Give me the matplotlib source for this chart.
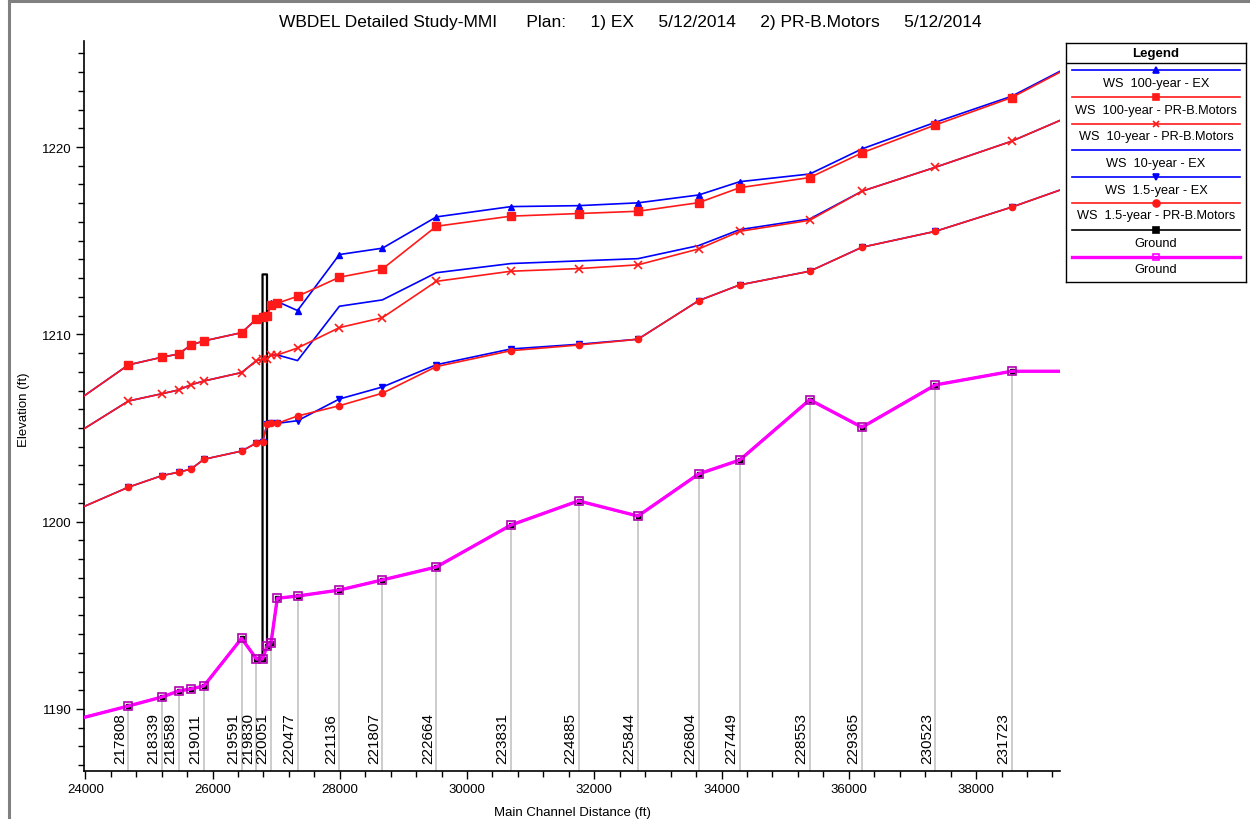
import matplotlib
matplotlib.use("Agg")
import matplotlib.pyplot as plt
from matplotlib.lines import Line2D
from matplotlib.ticker import MultipleLocator

plt.rcParams['font.family'] = ['Liberation Sans', 'DejaVu Sans']

# Main channel distance (ft) of each cross section, downstream to upstream
distance = [23500, 24678, 25206, 25466, 25661, 25865, 26457, 26691, 26786, 26856,
            26918, 27018, 27336, 27994, 28670, 29518, 30691, 31752, 32686, 33641,
            34286, 35386, 36207, 37361, 38559, 39800]

# River station labels ('' where the section is not labelled)
station = ['', '217808', '218339', '218589', '', '219011', '219591', '219830', '', '',
           '220051', '', '220477', '221136', '221807', '222664', '223831', '224885',
           '225844', '226804', '227449', '228553', '229365', '230523', '231723', '']

ws100_ex = [1205.57, 1208.37, 1208.78, 1208.95, 1209.43, 1209.65, 1210.09, 1210.82, 1210.91, 1210.97,
            1211.68, 1211.75, 1211.27, 1214.26, 1214.60, 1216.27, 1216.82, 1216.87, 1217.02, 1217.44,
            1218.15, 1218.56, 1219.90, 1221.32, 1222.71, 1224.89]
ws100_pr = [1205.57, 1208.37, 1208.78, 1208.95, 1209.43, 1209.65, 1210.09, 1210.82, 1210.91, 1210.97,
            1211.57, 1211.66, 1212.03, 1213.05, 1213.49, 1215.77, 1216.31, 1216.45, 1216.57, 1217.03,
            1217.83, 1218.37, 1219.69, 1221.18, 1222.64, 1224.85]
ws10_pr = [1203.94, 1206.44, 1206.83, 1207.03, 1207.31, 1207.51, 1207.96, 1208.60, 1208.67, 1208.67,
           1208.90, 1208.90, 1209.27, 1210.36, 1210.89, 1212.83, 1213.37, 1213.51, 1213.71, 1214.56,
           1215.50, 1216.09, 1217.64, 1218.92, 1220.31, 1222.12]
ws10_ex = [1203.94, 1206.44, 1206.83, 1207.03, 1207.31, 1207.51, 1207.96, 1208.60, 1208.67, 1208.67,
           1208.90, 1208.90, 1208.60, 1211.50, 1211.84, 1213.29, 1213.78, 1213.92, 1214.04, 1214.74,
           1215.59, 1216.16, 1217.64, 1218.92, 1220.31, 1222.12]
ws15_ex = [1200.10, 1201.84, 1202.46, 1202.64, 1202.81, 1203.33, 1203.77, 1204.20, 1204.24, 1205.20,
           1205.25, 1205.25, 1205.39, 1206.55, 1207.19, 1208.38, 1209.22, 1209.47, 1209.74, 1211.80,
           1212.64, 1213.37, 1214.65, 1215.50, 1216.79, 1218.28]
ws15_pr = [1200.10, 1201.84, 1202.46, 1202.64, 1202.81, 1203.33, 1203.77, 1204.20, 1204.24, 1205.20,
           1205.25, 1205.25, 1205.64, 1206.19, 1206.86, 1208.28, 1209.13, 1209.43, 1209.74, 1211.80,
           1212.64, 1213.37, 1214.65, 1215.50, 1216.79, 1218.28]
ground = [1189.13, 1190.16, 1190.64, 1190.96, 1191.07, 1191.23, 1193.77, 1192.67, 1192.67, 1193.35,
          1193.50, 1195.91, 1196.03, 1196.35, 1196.89, 1197.58, 1199.82, 1201.11, 1200.30, 1202.55,
          1203.29, 1206.51, 1205.04, 1207.30, 1208.03, 1208.03]

# Bridge faces (indices into distance) and top of deck elevation
bridge_faces = (8, 9)
bridge_top = 1213.2

BLUE = '#0000ff'
RED = '#ff1a1a'
MAG = '#ff00ff'

W, H = 1250, 820
fig = plt.figure(figsize=(W / 100, H / 100), dpi=100)
ax = fig.add_axes([84 / W, 1 - 772 / H, (1060 - 84) / W, (772 - 42) / H])

# station gridlines and labels
for x, g, s in zip(distance, ground, station):
    if s:
        ax.plot([x, x], [1180, g], color='#c8c8c8', lw=1.3, zorder=1)
        ax.annotate(s, (x, 1186.69), xytext=(-1, 6), textcoords='offset points',
                    rotation=90, ha='right', va='bottom', fontsize=11, zorder=2)

# existing-plan ground, with the bridge deck outline
i0, i1 = bridge_faces
bx = distance[:i0 + 1] + [distance[i0], distance[i1]] + distance[i1:]
by = ground[:i0 + 1] + [bridge_top, bridge_top] + ground[i1:]
ax.plot(bx, by, color='black', lw=1.6, zorder=3, solid_joinstyle='round')
ax.plot(distance, ground, ls='none', marker='s', ms=3.5, color='black', zorder=3)

# proposed-plan ground
ax.plot(distance, ground, color=MAG, lw=2.4, marker='s', ms=5.5, mfc='none',
        mec='#b000b0', mew=1.2, zorder=4)

ax.plot(distance, ws100_ex, color=BLUE, lw=1.2, marker='^', ms=5, zorder=5)
ax.plot(distance, ws10_ex, color=BLUE, lw=1.2, zorder=5)
ax.plot(distance, ws15_ex, color=BLUE, lw=1.2, marker='v', ms=5, zorder=5)
ax.plot(distance, ws100_pr, color=RED, lw=1.2, marker='s', ms=5.5, zorder=6)
ax.plot(distance, ws10_pr, color=RED, lw=1.2, marker='x', ms=5.5, mew=1.2, zorder=6)
ax.plot(distance, ws15_pr, color=RED, lw=1.2, marker='o', ms=4.5, zorder=6)

ax.set_xlim(23980, 39319)
ax.set_ylim(1186.69, 1225.66)
ax.xaxis.set_major_locator(MultipleLocator(2000))
ax.xaxis.set_minor_locator(MultipleLocator(400))
ax.yaxis.set_major_locator(MultipleLocator(10))
ax.yaxis.set_minor_locator(MultipleLocator(1))
ax.tick_params(which='major', length=6, width=1, labelsize=9.5, pad=3)
ax.tick_params(which='minor', length=4, width=1)
for side in ('top', 'right'):
    ax.spines[side].set_visible(False)
for side in ('left', 'bottom'):
    ax.spines[side].set_linewidth(1.2)

fig.text(630 / W, 1 - 23 / H,
         'WBDEL Detailed Study-MMI      Plan:     1) EX     5/12/2014     2) PR-B.Motors     5/12/2014',
         ha='center', va='center', fontsize=12.5)
fig.text(572 / W, 1 - 813 / H, 'Main Channel Distance (ft)', ha='center', va='center', fontsize=9.5)
fig.text(24 / W, 1 - 410 / H, 'Elevation (ft)', ha='center', va='center', rotation=90, fontsize=9.5)

# window frame edges
fig.add_artist(Line2D([9 / W, 9 / W], [0, 1], transform=fig.transFigure, color='#808080', lw=2.2))
fig.add_artist(Line2D([9 / W, 1], [1 - 1.5 / H, 1 - 1.5 / H], transform=fig.transFigure,
                      color='#808080', lw=2.2))

# legend box
lg = fig.add_axes([1066 / W, 1 - 283 / H, (1246 - 1066) / W, (283 - 44) / H])
lg.set_xlim(1066, 1246)
lg.set_ylim(283, 44)
lg.set_xticks([])
lg.set_yticks([])
for sp in lg.spines.values():
    sp.set_linewidth(1.0)
lg.text(1156, 54, 'Legend', ha='center', va='center', fontsize=9.5, fontweight='bold')
lg.plot([1066, 1246], [64, 64], color='black', lw=1.0)

entries = [
    ('WS  100-year - EX', BLUE, '^', BLUE, 1.2),
    ('WS  100-year - PR-B.Motors', RED, 's', RED, 1.2),
    ('WS  10-year - PR-B.Motors', RED, 'x', RED, 1.2),
    ('WS  10-year - EX', BLUE, None, BLUE, 1.2),
    ('WS  1.5-year - EX', BLUE, 'v', BLUE, 1.2),
    ('WS  1.5-year - PR-B.Motors', RED, 'o', RED, 1.2),
    ('Ground', 'black', 's', 'black', 1.2),
    ('Ground', MAG, 's', 'none', 2.4),
]
line_y = [71, 98, 125, 151, 178, 204, 231, 258]
text_y = [84, 111, 137, 164, 191, 216, 244, 270]
for (lab, col, mk, mfc, lw), ly, ty in zip(entries, line_y, text_y):
    lg.plot([1072, 1240], [ly, ly], color=col, lw=lw)
    if mk:
        lg.plot([1156], [ly], marker=mk, ms=5, color=col, mfc=mfc, mew=1.2)
    lg.text(1156, ty, lab, ha='center', va='center', fontsize=9.2)

fig.savefig('out.png', dpi=100)
